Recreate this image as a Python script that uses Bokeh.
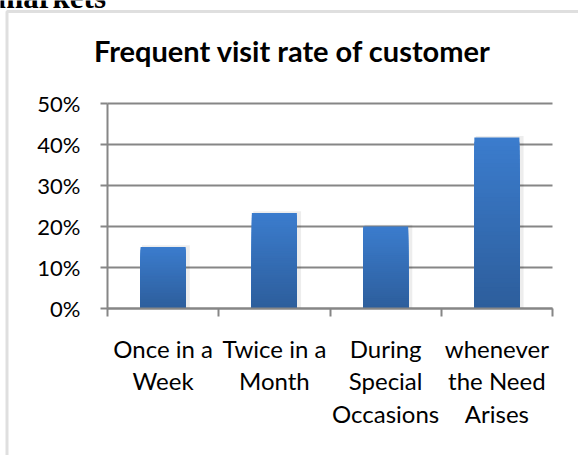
from bokeh.plotting import figure
from bokeh.models import FixedTicker, BoxAnnotation, Label
from bokeh.embed import file_html
from bokeh.resources import INLINE

# ---- data ----
categories = ["Once in a\nWeek", "Twice in a\nMonth", "During\nSpecial\nOccasions", "whenever\nthe Need\nArises"]
values = [15.0, 23.3, 20.0, 41.7]
y_ticks = [0, 10, 20, 30, 40, 50]
y_tick_labels = ["0%", "10%", "20%", "30%", "40%", "50%"]
title_text = "Frequent visit rate of customer"
heading_fragment = "markets"

# ---- layout (canvas pixels) ----
W, H = 578, 455
AL, AR, AT, AB = 107, 552, 103, 308          # plot-area edges in canvas pixels
GRAY = "#868686"
FONT = "Lato"

ncat = len(categories)
ymax = y_ticks[-1]
sx = (AR - AL) / ncat
sy = (AB - AT) / ymax
x_range = (-AL / sx, ncat + (W - AR) / sx)
y_range = (-(H - AB) / sy, ymax + AT / sy)

p = figure(width=W, height=H, x_range=x_range, y_range=y_range,
           output_backend="svg", toolbar_location=None,
           min_border_left=0, min_border_right=0, min_border_top=0, min_border_bottom=0)
p.outline_line_color = None
p.background_fill_color = "white"
p.border_fill_color = "white"
p.xgrid.visible = False
p.ygrid.visible = False

def sxp(cx):  # canvas x -> screen units of the frame
    return cx

def syp(cy):  # canvas y -> screen units of the frame (measured from the bottom)
    return H - cy

# outer chart frame
p.add_layout(BoxAnnotation(left=sxp(6.5), right=sxp(W + 50), top=syp(11), bottom=syp(H + 50),
                           left_units="screen", right_units="screen", top_units="screen", bottom_units="screen",
                           fill_alpha=0, line_color="#969696", line_width=3))

# horizontal gridlines across the plot area
p.segment(x0=[0] * len(y_ticks), x1=[ncat] * len(y_ticks), y0=y_ticks, y1=y_ticks,
          line_color=GRAY, line_width=2)

# y axis
p.yaxis.fixed_location = 0
p.yaxis.bounds = (y_ticks[0], ymax)
p.yaxis.ticker = FixedTicker(ticks=y_ticks)
p.yaxis.major_label_overrides = {t: l for t, l in zip(y_ticks, y_tick_labels)}
p.yaxis.axis_line_color = GRAY
p.yaxis.axis_line_width = 2
p.yaxis.major_tick_line_color = GRAY
p.yaxis.major_tick_line_width = 2
p.yaxis.major_tick_out = 7
p.yaxis.major_tick_in = 0
p.yaxis.minor_tick_line_color = None
p.yaxis.major_label_standoff = 20
p.yaxis.major_label_text_font = FONT
p.yaxis.major_label_text_font_size = "22px"
p.yaxis.major_label_text_color = "black"

# x axis: labels at centers, ticks at category boundaries
centers = [i + 0.5 for i in range(ncat)]
bounds = [float(i) for i in range(ncat + 1)]
p.xaxis.fixed_location = 0
p.xaxis.bounds = (0, ncat)
p.xaxis.ticker = FixedTicker(ticks=centers, minor_ticks=bounds)
p.xaxis.major_label_overrides = {c: l for c, l in zip(centers, categories)}
p.xaxis.axis_line_color = GRAY
p.xaxis.axis_line_width = 2
p.xaxis.major_tick_line_color = None
p.xaxis.minor_tick_line_color = GRAY
p.xaxis.minor_tick_line_width = 2
p.xaxis.minor_tick_out = 8
p.xaxis.minor_tick_in = 0
p.xaxis.major_label_standoff = 17
p.xaxis.major_label_text_font = FONT
p.xaxis.major_label_text_font_size = "24px"
p.xaxis.major_label_text_line_height = 1.13
p.xaxis.major_label_text_color = "black"

# soft shadow behind bars
p.vbar(x=[c + 0.025 for c in centers], width=0.43, bottom=0, top=[v + 0.4 for v in values],
       fill_color="#000000", fill_alpha=0.07, line_color=None)

# gradient bars: overlapping bars from full height (top colour) down to the shortest (bottom colour)
n = 40
top_rgb = (0x3B, 0x7C, 0xCD)
bot_rgb = (0x2D, 0x5E, 0x9C)
xs, tops, cols = [], [], []
for k in range(n):
    f = 1 - k / (n - 1)
    rgb = tuple(round(b + (t - b) * f) for b, t in zip(bot_rgb, top_rgb))
    for c, v in zip(centers, values):
        xs.append(c)
        tops.append(v * (n - k) / n)
        cols.append("#%02x%02x%02x" % rgb)
p.vbar(x=xs, width=0.405, bottom=0, top=tops, fill_color=cols, line_color=None)

# title
p.add_layout(Label(x=sxp(292), y=syp(50), x_units="screen", y_units="screen", text=title_text,
                   text_align="center", text_baseline="alphabetic", text_font=FONT,
                   text_font_style="bold", text_font_size="29px", text_color="black"))

# cut-off heading fragment at the very top
p.add_layout(Label(x=sxp(-3), y=syp(-3), x_units="screen", y_units="screen", text=heading_fragment,
                   text_align="left", text_baseline="alphabetic", text_font="Liberation Serif",
                   text_font_style="bold", text_font_size="31px", text_color="black"))

open("out.html", "w").write(file_html(p, INLINE))
